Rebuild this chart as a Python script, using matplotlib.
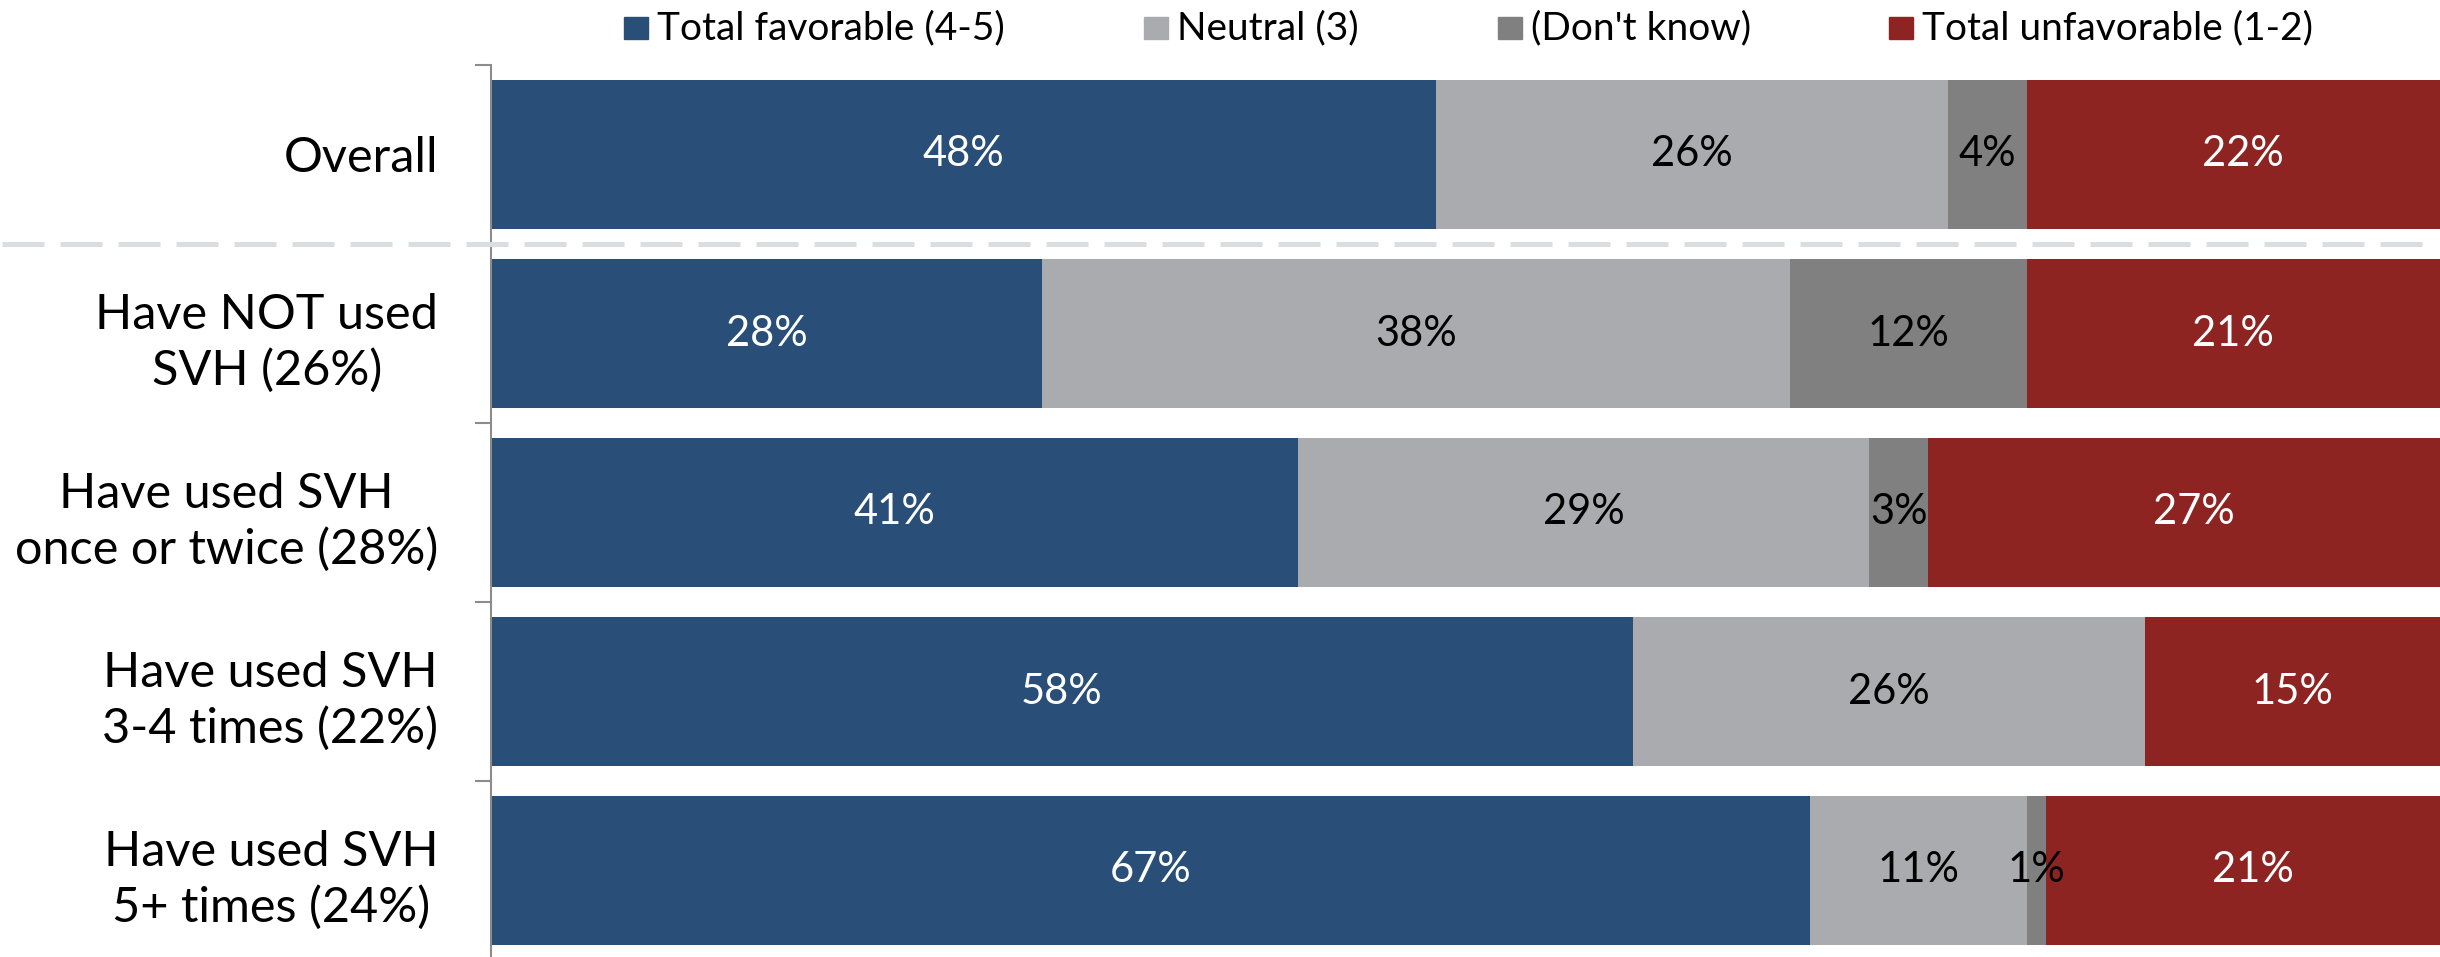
import matplotlib.pyplot as plt
from matplotlib.patches import Rectangle
from matplotlib.lines import Line2D
from matplotlib.transforms import blended_transform_factory

plt.rcParams['font.family'] = ['Lato', 'DejaVu Sans']

groups = ["Overall", "Have NOT used\nSVH (26%)", "Have used SVH\nonce or twice (28%)",
          "Have used SVH\n3-4 times (22%)", "Have used SVH\n5+ times (24%)"]
series = ["Total favorable (4-5)", "Neutral (3)", "(Don't know)", "Total unfavorable (1-2)"]
favorable = [48, 28, 41, 58, 67]
neutral = [26, 38, 29, 26, 11]
dont_know = [4, 12, 3, 0, 1]
unfavorable = [22, 21, 27, 15, 21]

colors = ["#294e78", "#aaabaf", "#808080", "#8e2422"]
text_colors = ["white", "black", "black", "white"]

W, H = 2440, 957
fig = plt.figure(figsize=(W / 100, H / 100), dpi=100)
# axes runs slightly past the right edge so 99% rows still reach it
ax = fig.add_axes([491 / W, -3 / H, 1949 / 0.99 / W, 895 / H])

ypos = list(range(len(groups)))
left = [0] * len(groups)
for vals, col, tcol in zip([favorable, neutral, dont_know, unfavorable], colors, text_colors):
    bars = ax.barh(ypos, vals, left=left, height=0.83, color=col, edgecolor='none')
    ax.bar_label(bars, label_type='center', color=tcol, fontsize=30,
                 fmt=lambda v: f"{v:.0f}%" if v > 0 else "")
    left = [a + b for a, b in zip(left, vals)]

ax.set_xlim(0, 100)
ax.set_ylim(len(groups) - 0.5, -0.5)
ax.set_xticks([])

# boundary ticks on the spine, group names centred on each row
ax.set_yticks([i - 0.5 for i in range(len(groups) + 1)])
ax.set_yticklabels([])
ax.set_yticks(ypos, minor=True)
ax.set_yticklabels(groups, minor=True, fontsize=35, linespacing=1.3)
ax.tick_params(axis='y', which='major', length=11.5, width=1.5, color='#8c8c8c')
ax.tick_params(axis='y', which='minor', length=0, pad=38)
for lab in ax.get_yticklabels(minor=True):
    lab.set_multialignment('center')

for s in ['top', 'right', 'bottom']:
    ax.spines[s].set_visible(False)
ax.spines['left'].set_color('#8c8c8c')
ax.spines['left'].set_linewidth(1.5)

# dashed separator below the overall row
trans = blended_transform_factory(fig.transFigure, ax.transData)
sep = Line2D([0.001, 0.993], [0.5, 0.5], transform=trans, color='#dcdde0',
             linewidth=3.6, linestyle=(0, (8.4, 3.2)), solid_capstyle='butt')
sep.set_dash_capstyle('butt')
fig.add_artist(sep)

# legend row
legend_x = [624, 1144, 1498, 1889]
for x, name, col in zip(legend_x, series, colors):
    fig.add_artist(Rectangle((x / W, 1 - 39 / H), 24 / W, 22 / H,
                             transform=fig.transFigure, color=col))
    fig.text((x + 33) / W, 1 - 28 / H, name, fontsize=28, va='center', ha='left')

fig.savefig("out.png", dpi=100)
